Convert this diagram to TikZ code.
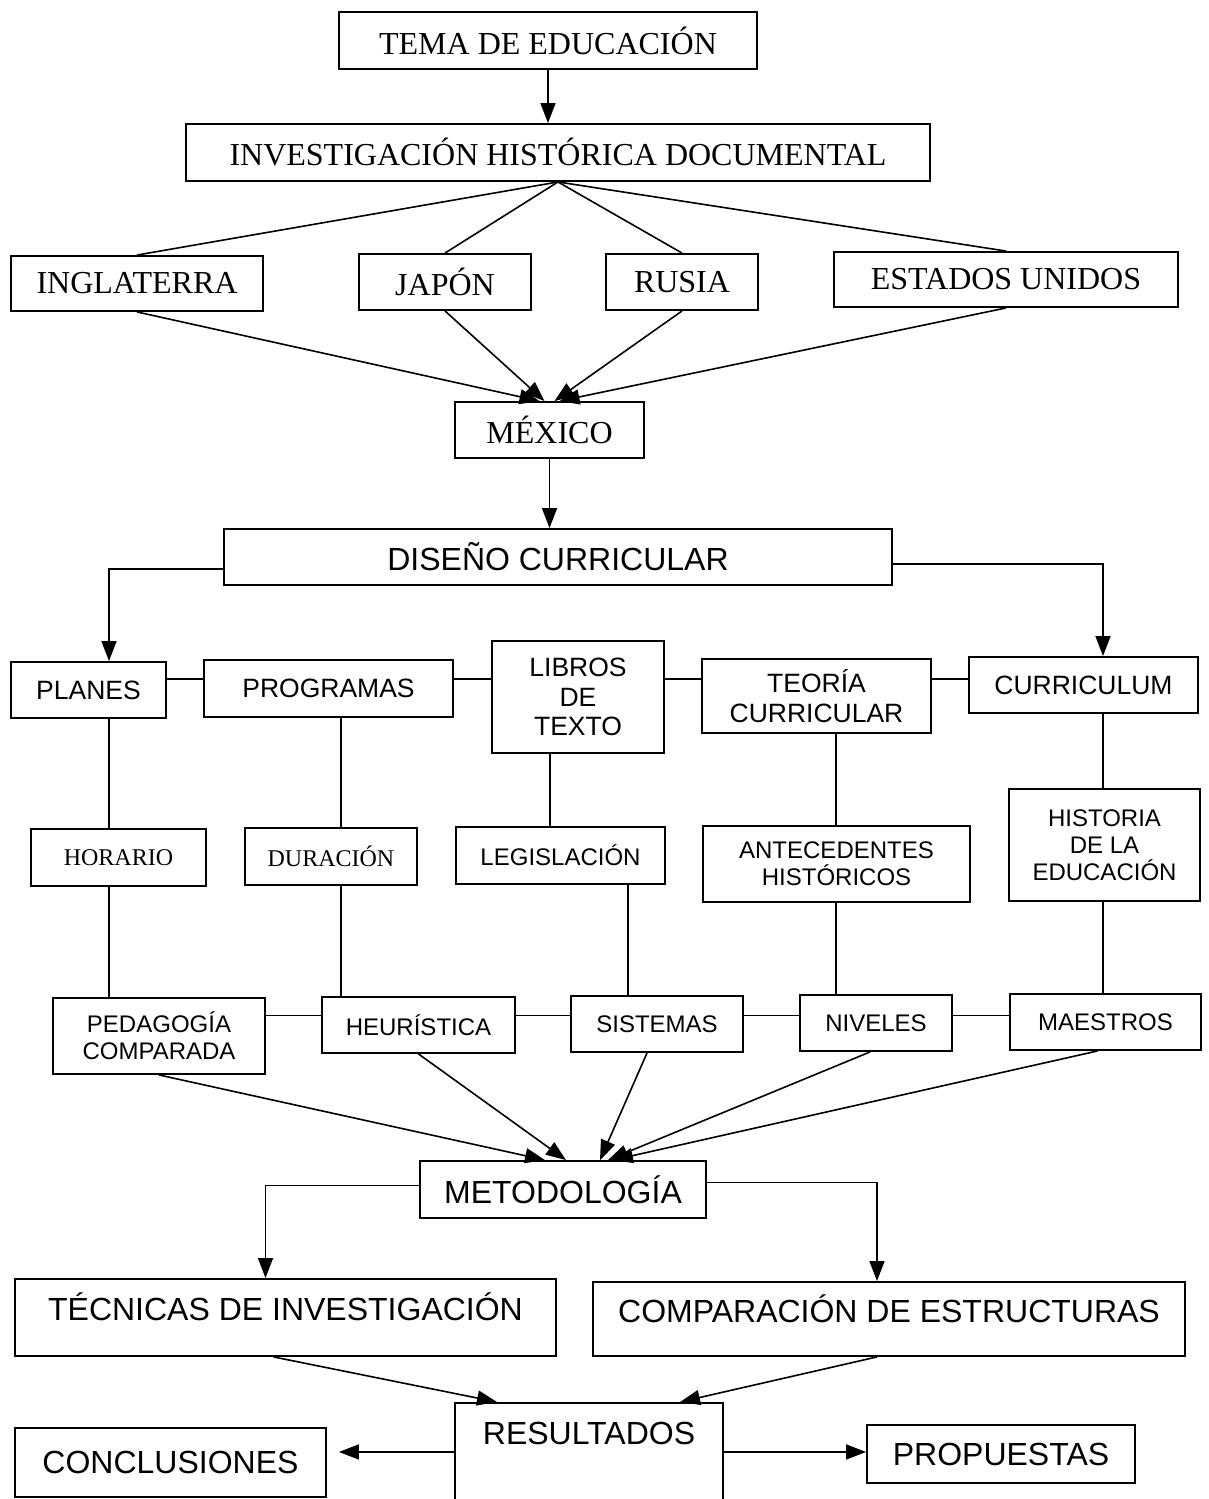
\documentclass[tikz,border=0pt]{standalone}
\usepackage{fontspec}
\setmainfont{Liberation Serif}
\setsansfont{Liberation Sans}
\usetikzlibrary{arrows.meta}

\begin{document}
\begin{tikzpicture}[x=1pt, y=-1pt, line width=1.6pt,
  >={Triangle[length=20pt,width=15pt]},
  caja/.style={draw, line width=1.9pt, inner sep=0pt, align=center},
  romg/.style={font=\fontsize{32}{36}\selectfont\rmfamily},
  romp/.style={font=\fontsize{24}{27}\selectfont\rmfamily},
  sang/.style={font=\fontsize{32}{36}\selectfont\sffamily},
  sanm/.style={font=\fontsize{26.5}{29.5}\selectfont\sffamily},
  sanp/.style={font=\fontsize{24}{27}\selectfont\sffamily}]
  \useasboundingbox (0,0) rectangle (1208,1499);
  % Columns and rows used by the straight links.
  \coordinate (c1) at (109,0);
  \coordinate (c2) at (341,0);
  \coordinate (c3) at (550,0);
  \coordinate (c3b) at (628,0);
  \coordinate (c4) at (836,0);
  \coordinate (c5) at (1103,0);
  \coordinate (f1) at (0,679);
  \coordinate (f2) at (0,1015.5);
  % Topic, documental research and the countries.
  \node[caja, romg, minimum width=418pt, minimum height=57pt] (tema) at (548,40.5) {TEMA DE EDUCACIÓN};
  \node[caja, romg, minimum width=744pt, minimum height=57pt] (inv) at (558,152.5) {INVESTIGACIÓN HISTÓRICA DOCUMENTAL};
  \node[caja, romg, minimum width=252pt, minimum height=55pt] (ing) at (137,283.5) {INGLATERRA};
  \node[caja, romg, minimum width=172pt, minimum height=56pt] (jap) at (445,282) {JAPÓN};
  \node[caja, romg, minimum width=152pt, minimum height=56pt] (rus) at (682,282) {RUSIA};
  \node[caja, romg, minimum width=344pt, minimum height=55pt] (eeu) at (1006,279.5) {ESTADOS UNIDOS};
  \node[caja, romg, minimum width=189pt, minimum height=56pt] (mex) at (549.5,430) {MÉXICO};
  \node[caja, sang, minimum width=668pt, minimum height=56pt] (dis) at (558,557) {DISEÑO CURRICULAR};
  % First row of the curriculum design.
  \node[caja, sanm, minimum width=155pt, minimum height=56pt] (pla) at (88.5,690) {PLANES};
  \node[caja, sanm, minimum width=249pt, minimum height=57pt] (prg) at (328.5,688.5) {PROGRAMAS};
  \node[caja, sanm, minimum width=172pt, minimum height=112pt] (lib) at (578,697) {LIBROS\\DE\\TEXTO};
  \node[caja, sanm, minimum width=229pt, minimum height=74pt] (teo) at (816.5,696) {TEORÍA\\CURRICULAR};
  \node[caja, sanm, minimum width=229pt, minimum height=56pt] (cur) at (1083.5,685) {CURRICULUM};
  % Second row.
  \node[caja, romp, minimum width=175pt, minimum height=57pt] (hor) at (118.5,857.5) {HORARIO};
  \node[caja, romp, minimum width=172pt, minimum height=57pt] (dur) at (331,856.5) {DURACIÓN};
  \node[caja, sanp, minimum width=209pt, minimum height=57pt] (leg) at (560.5,855.5) {LEGISLACIÓN};
  \node[caja, sanp, minimum width=267pt, minimum height=76pt] (ant) at (836.5,864) {ANTECEDENTES\\HISTÓRICOS};
  \node[caja, sanp, minimum width=191pt, minimum height=112pt] (his) at (1104.5,845) {HISTORIA\\DE LA\\EDUCACIÓN};
  % Third row.
  \node[caja, sanp, minimum width=212pt, minimum height=76pt] (ped) at (159,1036) {PEDAGOGÍA\\COMPARADA};
  \node[caja, sanp, minimum width=193pt, minimum height=56pt] (heu) at (418.5,1025) {HEURÍSTICA};
  \node[caja, sanp, minimum width=172pt, minimum height=56pt] (sis) at (657,1024) {SISTEMAS};
  \node[caja, sanp, minimum width=152pt, minimum height=56pt] (niv) at (876,1023) {NIVELES};
  \node[caja, sanp, minimum width=191pt, minimum height=56pt] (mae) at (1105.5,1022) {MAESTROS};
  % Methodology and results.
  \node[caja, sang, minimum width=286pt, minimum height=57pt] (met) at (563,1189.5) {METODOLOGÍA};
  \node[caja, sang, minimum width=541pt, text height=42pt, text depth=35pt, anchor=north] (tec) at (285.5,1278) {TÉCNICAS DE INVESTIGACIÓN};
  \node[caja, sang, minimum width=592pt, text height=40.5pt, text depth=33.5pt, anchor=north] (com) at (889,1281) {COMPARACIÓN DE ESTRUCTURAS};
  \node[caja, sang, minimum width=268pt, text height=42pt, text depth=56pt, anchor=north] (res) at (589,1402) {RESULTADOS};
  \node[caja, sang, minimum width=311pt, minimum height=69pt] (con) at (170.5,1462.5) {CONCLUSIONES};
  \node[caja, sang, minimum width=268pt, minimum height=58pt] (prp) at (1001,1454) {PROPUESTAS};

  % Connectors of the upper part.
  \draw[->] (tema.south) -- (tema.south |- inv.north);
  \foreach \n in {ing,jap,rus,eeu}
    \draw (inv.south) -- (\n.north);
  \draw[->] (ing.south) -- ([xshift=-10pt]mex.north);
  \draw[->] (jap.south) -- ([xshift=-5pt]mex.north);
  \draw[->] (rus.south) -- ([xshift=5pt]mex.north);
  \draw[->] (eeu.south) -- ([xshift=10pt]mex.north);
  \draw[->] (mex.south) -- (mex.south |- dis.north);
  \draw[->] ([yshift=-12pt]dis.west) -| (pla.north -| c1);
  \draw[->] ([yshift=-7pt]dis.east) -| (cur.north -| c5);
  % Links inside the grid.
  \foreach \a/\b in {pla/prg, prg/lib, lib/teo, teo/cur}
    \draw (\a.east |- f1) -- (\b.west |- f1);
  \foreach \a/\b in {ped/heu, heu/sis, sis/niv, niv/mae}
    \draw (\a.east |- f2) -- (\b.west |- f2);
  \foreach \a/\b/\c in {pla/hor/c1, hor/ped/c1, prg/dur/c2, dur/heu/c2,
      lib/leg/c3, leg/sis/c3b, teo/ant/c4, ant/niv/c4, cur/his/c5, his/mae/c5}
    \draw (\a.south -| \c) -- (\b.north -| \c);
  % Towards the methodology.
  \draw[->] (ped.south) -- ([xshift=-18pt]met.north);
  \draw[->] (heu.south) -- ([xshift=3pt]met.north);
  \draw[->] ([xshift=-10pt]sis.south) -- ([xshift=37pt]met.north);
  \draw[->] ([xshift=-6pt]niv.south) -- ([xshift=45pt]met.north);
  \draw[->] ([xshift=-8pt]mae.south) -- ([xshift=50pt]met.north);
  % Methodology, results and what follows.
  \draw[->] ([yshift=4pt]met.west) -| ([xshift=-20pt]tec.north);
  \draw[->] ([yshift=7pt]met.east) -| ([xshift=-12pt]com.north);
  \draw[->] ([xshift=-12pt]tec.south) -- ([xshift=-92pt]res.north);
  \draw[->] ([xshift=-12pt]com.south) -- ([xshift=91pt]res.north);
  \draw[->, shorten >=12pt] (res.west) -- (res.west -| con.east);
  \draw[->] (res.east) -- (res.east -| prp.west);
\end{tikzpicture}
\end{document}
